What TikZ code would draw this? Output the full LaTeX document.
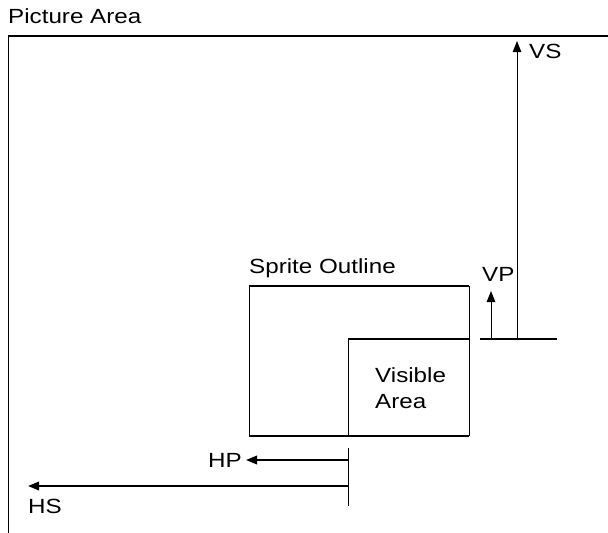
\documentclass[tikz,border=0pt]{standalone}
\usepackage{fontspec}
\setmainfont{Liberation Sans}[FakeStretch=1.18]
\usetikzlibrary{arrows.meta}
\tikzset{
  lbl/.style={inner sep=0pt, anchor=base west, font=\fontsize{20.5}{24}\selectfont},
  thinln/.style={line width=1pt},
  thickln/.style={line width=2pt},
  arr/.style={line width=1pt, -{Triangle[length=11pt,width=8.5pt]}},
  harr/.style={line width=2pt, -{Triangle[length=11pt,width=8.5pt]}}
}
\begin{document}
\begin{tikzpicture}[x=1pt,y=-1pt]
\useasboundingbox (0,0) rectangle (608,533);
% labels
\node[lbl] (title) at (8,23) {Picture Area};
\node[lbl] (sprite) at (249,273) {Sprite Outline};
\node[lbl] (vis1) at (375,382) {Visible};
\node[lbl] (vis2) at (375,408) {Area};
\node[lbl] (vp) at (482,281) {VP};
\node[lbl] (vs) at (529,58) {VS};
\node[lbl, anchor=base east] (hp) at (242,467) {HP};
\node[lbl] (hs) at (28,513) {HS};
% picture area frame
\coordinate (pbl) at (8,533);
\coordinate (ptl) at (8,36);
\coordinate (ptr) at (608,36);
\draw[thinln] (pbl) -- (ptl);
\draw[thickln] (ptl) -- (ptr);
% sprite outline
\coordinate (s1) at (249,286);
\coordinate (s2) at (469,286);
\coordinate (s3) at (469,436);
\coordinate (s4) at (249,436);
\draw[thickln] (s1) -- (s2);
\draw[thickln] (s4) -- (s3);
\draw[thinln] (s1) -- (s4);
\draw[thinln] (s2) -- (s3);
% visible area
\coordinate (v1) at (348,339);
\coordinate (v2) at (469,339);
\coordinate (v3) at (348,436);
\draw[thickln] (v1) -- (v2);
\draw[thinln] (v1) -- (v3);
% vertical measures
\coordinate (b1) at (480,339);
\coordinate (b2) at (557,339);
\draw[thickln] (b1) -- (b2);
\coordinate (vpb) at (491,339);
\coordinate (vpt) at (491,291);
\draw[arr] (vpb) -- (vpt);
\coordinate (vsb) at (517,339);
\coordinate (vst) at (517,41);
\draw[arr] (vsb) -- (vst);
% horizontal measures
\coordinate (h1) at (348,448);
\coordinate (h2) at (348,506);
\draw[thinln] (h1) -- (h2);
\coordinate (hpr) at (348,460);
\coordinate (hpl) at (246,460);
\draw[harr] (hpr) -- (hpl);
\coordinate (hsr) at (348,486);
\coordinate (hsl) at (28,486);
\draw[harr] (hsr) -- (hsl);
\end{tikzpicture}
\end{document}
